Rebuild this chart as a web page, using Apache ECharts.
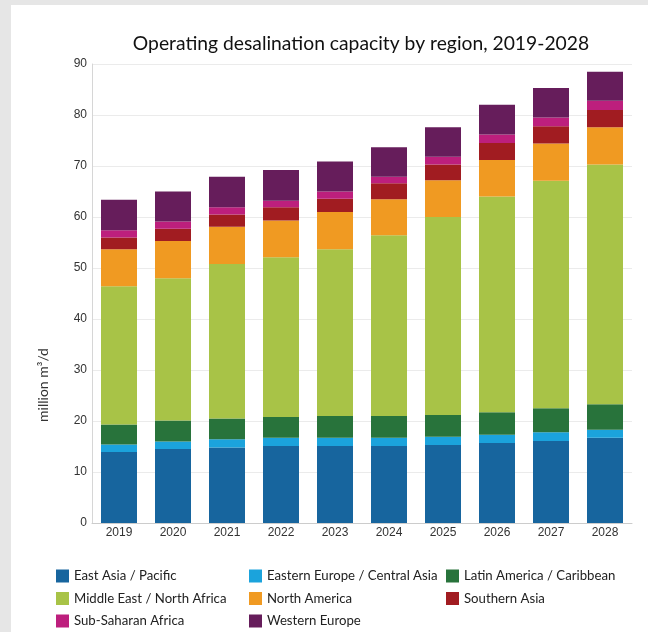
<!DOCTYPE html>
<html>
<head>
<meta charset="utf-8">
<script src="https://cdn.jsdelivr.net/npm/echarts@6/dist/echarts.min.js"></script>
<style>
  html, body { margin: 0; padding: 0; background: #fff; }
  #chart { width: 648px; height: 632px; }
</style>
</head>
<body>
<div id="chart"></div>
<script>
// 数据
const years = ['2019', '2020', '2021', '2022', '2023', '2024', '2025', '2026', '2027', '2028']
const yTicks = [0, 10, 20, 30, 40, 50, 60, 70, 80, 90]
const eastAsia = [13.9, 14.5, 14.8, 15.1, 15.1, 15.1, 15.3, 15.7, 16.1, 16.7]
const easternEurope = [1.5, 1.5, 1.6, 1.6, 1.6, 1.6, 1.6, 1.6, 1.7, 1.6]
const latinAmerica = [3.9, 4.1, 4.1, 4.1, 4.3, 4.3, 4.3, 4.4, 4.7, 5.0]
const middleEast = [27.1, 27.9, 30.3, 31.3, 32.7, 35.4, 38.8, 42.3, 44.6, 47.0]
const northAmerica = [7.3, 7.3, 7.3, 7.2, 7.3, 7.1, 7.2, 7.2, 7.3, 7.3]
const southernAsia = [2.3, 2.4, 2.4, 2.6, 2.6, 3.1, 3.1, 3.3, 3.4, 3.4]
const subSaharan = [1.4, 1.4, 1.4, 1.3, 1.4, 1.3, 1.5, 1.7, 1.7, 1.8]
const westernEurope = [6.0, 5.9, 6.0, 6.0, 5.9, 5.8, 5.8, 5.8, 5.8, 5.7]

const regions = [
    { name: 'East Asia / Pacific', data: eastAsia, color: '#17659e' },
    { name: 'Eastern Europe / Central Asia', data: easternEurope, color: '#1ba3dc' },
    { name: 'Latin America / Caribbean', data: latinAmerica, color: '#28733b' },
    { name: 'Middle East / North Africa', data: middleEast, color: '#a8c347' },
    { name: 'North America', data: northAmerica, color: '#f09a22' },
    { name: 'Southern Asia', data: southernAsia, color: '#a11c21' },
    { name: 'Sub-Saharan Africa', data: subSaharan, color: '#bd1f7d' },
    { name: 'Western Europe', data: westernEurope, color: '#661d5b' }
]

const font = 'Lato, "Noto Sans", sans-serif'
const axisFont = '"Liberation Sans", Arial, sans-serif'
const legendBase = {
    orient: 'vertical',
    top: 569.5,
    padding: 0,
    itemWidth: 13,
    itemHeight: 13,
    itemGap: 9.5,
    icon: 'rect',
    textStyle: { fontFamily: font, fontSize: 13.2, color: '#222' }
}

let myChart = echarts.init(document.getElementById('chart'))
myChart.setOption({
    animation: false,
    color: regions.map(r => r.color),
    title: {
        text: 'Operating desalination capacity by region, 2019-2028',
        left: 356,
        textAlign: 'center',
        top: 29,
        textStyle: { fontFamily: font, fontSize: 19.3, fontWeight: 'normal', color: '#111' }
    },
    graphic: [
        { type: 'rect', left: 0, top: 0, shape: { width: 11, height: 632 }, style: { fill: '#e6e6e6' } },
        { type: 'rect', left: 0, top: 0, shape: { width: 648, height: 5 }, style: { fill: '#e6e6e6' } },
        {
            type: 'text',
            x: 43,
            y: 385,
            rotation: Math.PI / 2,
            style: {
                text: 'million m³/d',
                fontFamily: font,
                fontSize: 14,
                fill: '#333',
                align: 'center',
                verticalAlign: 'middle'
            }
        }
    ],
    legend: [
        Object.assign({ left: 56, data: [regions[0].name, regions[3].name, regions[6].name] }, legendBase),
        Object.assign({ left: 249, data: [regions[1].name, regions[4].name, regions[7].name] }, legendBase),
        Object.assign({ left: 446, data: [regions[2].name, regions[5].name] }, legendBase)
    ],
    grid: {
        left: 92,
        right: 16,
        top: 64,
        bottom: 109,
        containLabel: false
    },
    xAxis: {
        type: 'category',
        data: years,
        axisLine: { lineStyle: { color: '#cccccc' } },
        axisTick: { show: false },
        axisLabel: { fontFamily: axisFont, fontSize: 12, color: '#333', margin: 4 }
    },
    yAxis: {
        type: 'value',
        min: yTicks[0],
        max: yTicks[yTicks.length - 1],
        interval: 10,
        axisLine: { show: true, lineStyle: { color: '#d6d6d6' } },
        axisTick: { show: false },
        axisLabel: { fontFamily: axisFont, fontSize: 12, color: '#333', margin: 5 },
        splitLine: { lineStyle: { color: '#ebebeb' } }
    },
    series: regions.map(r => ({
        name: r.name,
        type: 'bar',
        stack: 'total',
        barWidth: 36,
        data: r.data,
        itemStyle: { color: r.color }
    }))
})
</script>
</body>
</html>
